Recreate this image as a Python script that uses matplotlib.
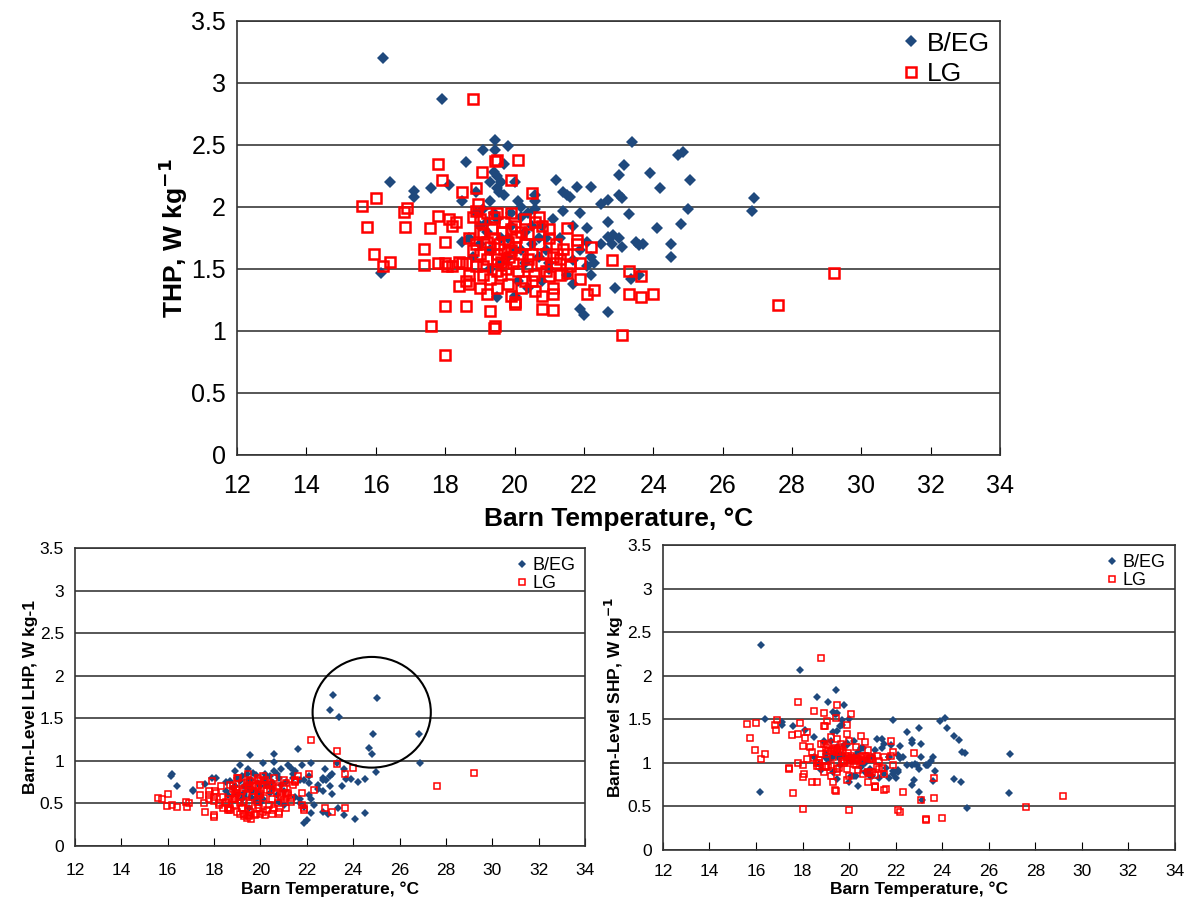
import matplotlib.pyplot as plt
from matplotlib.patches import Ellipse

plt.rcParams['font.family'] = ['Liberation Sans', 'DejaVu Sans']

# B/EG barns: temperature, total / latent / sensible heat production
beg_temp = [16.2, 16.15, 16.4, 17.1, 17.1, 17.6, 17.9, 18.1, 18.6, 18.5,
            18.7, 18.9, 19.1, 19.45, 19.45, 19.8, 19.4, 19.5, 19.6, 20.0,
            19.7, 19.3, 19.1, 19.55, 20.1, 20.6, 20.6, 20.2, 19.9, 19.2,
            19.0, 19.3, 19.6, 19.8, 20.3, 20.5, 20.8, 20.9, 21.2, 21.4,
            21.5, 21.6, 21.8, 22.2, 21.4, 21.9, 22.1, 22.5, 22.7, 22.7,
            23.0, 23.1, 23.15, 23.0, 23.4, 23.3, 23.0, 22.7, 22.8, 23.1,
            23.5, 23.7, 23.9, 24.1, 24.2, 24.5, 24.5, 24.8, 24.7, 24.85,
            25.05, 25.0, 26.9, 26.85, 22.9, 23.35, 23.6, 22.2, 21.9, 22.0,
            22.7, 21.7, 22.1, 22.2, 21.7, 20.0, 19.5, 20.4, 20.1, 21.0,
            20.7, 19.3, 18.8, 20.2, 20.9, 21.3, 21.1, 20.4, 19.9, 19.5,
            19.2, 18.5, 20.6, 19.7, 19.5, 19.3, 20.3, 21.5, 20.8, 22.5,
            22.1, 21.7, 23.6, 22.85, 21.9, 22.3, 19.0, 19.8, 20.5, 20.0,
            19.4, 20.2, 21.0, 19.6, 18.9, 20.7]
beg_thp = [3.20, 1.47, 2.20, 2.13, 2.08, 2.15, 2.87, 2.18, 2.36, 2.05,
           1.75, 2.12, 2.46, 2.54, 2.46, 2.49, 2.28, 2.25, 2.20, 2.20,
           2.10, 2.05, 1.98, 2.12, 2.05, 2.10, 1.98, 1.92, 1.85, 1.80,
           1.70, 1.65, 1.75, 1.60, 1.80, 1.70, 1.85, 1.75, 2.22, 2.12,
           2.10, 2.08, 2.16, 2.16, 1.97, 1.95, 1.83, 2.02, 2.06, 1.88,
           2.10, 2.07, 2.34, 2.26, 2.52, 1.94, 1.75, 1.76, 1.70, 1.68,
           1.72, 1.70, 2.27, 1.83, 2.15, 1.70, 1.60, 1.86, 2.42, 2.44,
           2.22, 1.98, 2.07, 1.97, 1.35, 1.42, 1.45, 1.45, 1.18, 1.13,
           1.15, 1.38, 1.52, 1.60, 1.57, 1.28, 1.27, 1.35, 1.40, 1.50,
           1.60, 1.50, 1.60, 1.65, 1.65, 1.75, 1.90, 1.95, 1.95, 1.90,
           1.88, 1.72, 2.05, 2.35, 2.15, 2.20, 1.55, 1.45, 1.40, 1.70,
           1.72, 1.85, 1.69, 1.77, 1.65, 1.55, 1.85, 1.75, 1.85, 1.65,
           1.95, 2.00, 1.55, 1.55, 1.95, 1.75]
beg_lhp = [0.85, 0.82, 0.70, 0.66, 0.64, 0.73, 0.80, 0.80, 0.60, 0.75,
           0.76, 0.88, 0.76, 0.70, 0.90, 0.83, 0.72, 0.68, 0.78, 0.70,
           0.66, 0.70, 0.95, 1.07, 0.98, 1.08, 0.99, 0.85, 0.62, 0.55,
           0.60, 0.58, 0.65, 0.52, 0.72, 0.75, 0.80, 0.90, 0.95, 0.85,
           0.88, 1.14, 0.95, 0.97, 0.80, 0.46, 0.74, 0.67, 0.80, 0.65,
           0.70, 0.85, 1.77, 1.60, 1.52, 0.97, 0.82, 0.78, 0.90, 0.61,
           0.70, 0.79, 0.79, 0.32, 0.75, 0.39, 0.79, 1.08, 1.15, 1.31,
           1.74, 0.87, 0.97, 1.32, 0.38, 0.45, 0.36, 0.39, 0.27, 0.30,
           0.40, 0.55, 0.60, 0.55, 0.50, 0.50, 0.45, 0.62, 0.55, 0.65,
           0.60, 0.60, 0.68, 0.80, 0.72, 0.92, 0.75, 0.82, 0.74, 0.72,
           0.82, 0.65, 0.88, 0.86, 0.78, 0.62, 0.70, 0.58, 0.52, 0.72,
           0.82, 0.78, 0.90, 0.78, 0.78, 0.48, 0.80, 0.55, 0.68, 0.60,
           0.85, 0.75, 0.48, 0.58, 0.70, 0.85]
beg_shp = [2.35, 0.66, 1.50, 1.47, 1.44, 1.42, 2.07, 1.38, 1.76, 1.30,
           0.99, 1.24, 1.70, 1.84, 1.56, 1.66, 1.56, 1.57, 1.42, 1.50,
           1.44, 1.35, 1.03, 1.05, 1.07, 1.02, 0.99, 1.07, 1.23, 1.25,
           1.10, 1.07, 1.10, 1.08, 1.08, 0.95, 1.05, 0.85, 1.27, 1.27,
           1.22, 0.94, 1.21, 1.19, 1.17, 1.49, 1.09, 1.35, 1.26, 1.23,
           1.40, 1.22, 0.57, 0.66, 0.98, 0.97, 0.93, 0.98, 0.80, 1.07,
           1.02, 0.91, 1.48, 1.51, 1.40, 1.31, 0.81, 0.78, 1.26, 1.13,
           0.48, 1.11, 1.10, 0.65, 0.97, 0.97, 1.07, 1.06, 0.91, 0.83,
           0.75, 0.83, 0.92, 1.05, 1.07, 0.78, 0.82, 0.73, 0.85, 0.85,
           1.00, 0.90, 0.92, 0.85, 0.93, 0.83, 1.15, 1.13, 1.21, 1.18,
           1.06, 1.07, 1.17, 1.49, 1.37, 1.58, 0.85, 0.87, 0.88, 0.98,
           0.90, 1.07, 0.79, 0.99, 0.87, 1.07, 1.05, 1.20, 1.17, 1.05,
           1.10, 1.25, 1.07, 0.97, 1.25, 0.90]

# LG barns
lg_temp = [15.6, 15.75, 16.0, 15.95, 16.2, 16.4, 16.8, 16.9, 16.85, 17.4,
           17.4, 17.55, 17.6, 17.8, 17.9, 17.8, 18.0, 18.0, 18.05, 18.0,
           18.0, 18.1, 18.2, 18.3, 18.4, 18.5, 18.6, 18.6, 18.5, 18.8,
           18.9, 18.95, 18.9, 18.8, 19.0, 19.05, 19.45, 19.5, 20.1, 19.9,
           20.5, 19.5, 19.9, 19.4, 19.45, 19.3, 19.0, 19.1, 19.2, 19.5,
           19.9, 20.0, 20.0, 20.3, 20.6, 20.8, 20.8, 21.1, 21.1, 21.1,
           21.0, 21.2, 21.5, 21.5, 21.6, 21.8, 21.8, 21.9, 21.9, 21.5,
           22.1, 22.3, 22.2, 22.8, 23.3, 23.3, 23.1, 23.65, 23.65, 24.0,
           27.6, 29.2, 18.7, 18.8, 18.9, 19.0, 19.1, 19.2, 19.3, 19.2,
           19.35, 19.4, 19.5, 19.55, 19.6, 19.65, 19.7, 19.75, 19.8, 19.85,
           19.9, 19.95, 20.0, 20.05, 20.1, 20.15, 20.2, 20.3, 20.35, 20.4,
           20.5, 20.55, 20.6, 20.7, 20.75, 20.8, 20.9, 21.0, 21.1, 21.2,
           21.3, 21.4, 19.1, 19.3, 19.6, 19.8, 20.2, 20.5, 18.7, 18.6,
           18.9, 19.0, 19.4, 19.2, 20.0, 20.3, 20.7, 19.7, 21.0, 19.5,
           19.9, 20.4, 20.9, 21.3, 17.8, 18.2, 18.4, 18.7, 19.5]
lg_thp = [2.01, 1.84, 2.07, 1.62, 1.52, 1.56, 1.96, 1.99, 1.84, 1.66,
          1.53, 1.83, 1.04, 2.35, 2.22, 1.93, 1.72, 1.55, 1.52, 0.81,
          1.20, 1.90, 1.85, 1.88, 1.36, 1.55, 1.20, 1.40, 2.12, 2.87,
          2.15, 2.02, 1.97, 1.92, 1.80, 2.28, 2.37, 2.38, 2.38, 2.22,
          2.11, 1.95, 1.95, 1.02, 1.04, 1.16, 1.35, 1.45, 1.30, 1.35,
          1.28, 1.23, 1.22, 1.40, 1.32, 1.18, 1.28, 1.17, 1.30, 1.35,
          1.44, 1.55, 1.62, 1.47, 1.52, 1.70, 1.73, 1.42, 1.55, 1.83,
          1.30, 1.33, 1.68, 1.57, 1.48, 1.30, 0.97, 1.44, 1.27, 1.30,
          1.21, 1.47, 1.75, 1.65, 1.70, 1.62, 1.78, 1.72, 1.68, 1.58,
          1.82, 1.75, 1.62, 1.70, 1.56, 1.80, 1.66, 1.50, 1.72, 1.60,
          1.82, 1.55, 1.68, 1.76, 1.48, 1.62, 1.80, 1.70, 1.52, 1.78,
          1.62, 1.45, 1.88, 1.70, 1.55, 1.85, 1.62, 1.75, 1.60, 1.70,
          1.58, 1.66, 1.52, 1.42, 1.45, 1.38, 1.35, 1.40, 1.45, 1.55,
          1.52, 1.90, 1.92, 1.95, 1.85, 1.90, 1.92, 1.88, 1.82, 1.58,
          1.65, 1.58, 1.48, 1.45, 1.55, 1.52, 1.56, 1.38, 1.48]
lg_lhp = [0.56, 0.55, 0.61, 0.47, 0.48, 0.46, 0.52, 0.50, 0.46, 0.72,
          0.60, 0.51, 0.40, 0.65, 0.76, 0.60, 0.53, 0.58, 0.65, 0.34,
          0.36, 0.62, 0.50, 0.70, 0.58, 0.50, 0.42, 0.44, 0.52, 0.67,
          0.58, 0.60, 0.55, 0.70, 0.62, 0.80, 0.85, 0.72, 0.82, 0.78,
          0.70, 0.68, 0.62, 0.33, 0.36, 0.38, 0.40, 0.50, 0.45, 0.42,
          0.48, 0.38, 0.76, 0.42, 0.45, 0.40, 0.38, 0.45, 0.58, 0.62,
          0.55, 0.60, 0.75, 0.78, 0.82, 0.62, 0.48, 0.45, 0.42, 0.76,
          0.84, 0.66, 1.24, 0.45, 1.12, 0.96, 0.40, 0.84, 0.44, 0.92,
          0.71, 0.86, 0.72, 0.55, 0.48, 0.66, 0.58, 0.74, 0.52, 0.44,
          0.68, 0.60, 0.50, 0.76, 0.40, 0.58, 0.64, 0.36, 0.70, 0.52,
          0.80, 0.44, 0.62, 0.72, 0.40, 0.56, 0.78, 0.66, 0.48, 0.74,
          0.55, 0.42, 0.80, 0.62, 0.50, 0.70, 0.58, 0.68, 0.74, 0.62,
          0.56, 0.72, 0.38, 0.35, 0.32, 0.38, 0.36, 0.38, 0.45, 0.55,
          0.62, 0.80, 0.75, 0.65, 0.60, 0.72, 0.68, 0.70, 0.78, 0.68,
          0.72, 0.66, 0.60, 0.52, 0.55, 0.48, 0.44, 0.42, 0.35]
lg_shp = [1.45, 1.29, 1.46, 1.15, 1.04, 1.10, 1.44, 1.49, 1.38, 0.94,
          0.93, 1.32, 0.65, 1.70, 1.46, 1.33, 1.19, 0.97, 0.87, 0.47,
          0.84, 1.28, 1.35, 1.18, 0.78, 1.05, 0.78, 0.96, 1.60, 2.20,
          1.57, 1.42, 1.42, 1.22, 1.18, 1.48, 1.52, 1.66, 1.56, 1.44,
          1.31, 1.27, 1.33, 0.69, 0.68, 0.78, 0.95, 0.95, 0.85, 0.93,
          0.80, 0.85, 0.46, 0.98, 0.87, 0.78, 0.90, 0.72, 0.72, 0.73,
          0.89, 0.95, 0.87, 0.69, 0.70, 1.08, 1.25, 0.97, 1.13, 1.07,
          0.46, 0.67, 0.44, 1.11, 0.36, 0.34, 0.57, 0.60, 0.83, 0.37,
          0.49, 0.62, 1.03, 1.10, 1.22, 0.96, 1.20, 0.98, 1.16, 1.14,
          1.14, 1.15, 1.12, 0.94, 1.16, 1.22, 1.02, 1.14, 1.02, 1.08,
          1.02, 1.11, 1.06, 1.04, 1.08, 1.06, 1.02, 1.04, 1.04, 1.04,
          1.07, 1.03, 1.08, 1.08, 1.05, 1.15, 1.04, 1.07, 0.86, 1.08,
          1.02, 0.94, 1.14, 1.07, 1.13, 1.00, 0.99, 1.02, 1.00, 1.00,
          0.90, 1.10, 1.17, 1.30, 1.25, 1.18, 1.24, 1.18, 1.04, 0.90,
          0.93, 0.92, 0.88, 0.93, 1.00, 1.04, 1.12, 0.96, 1.13]

BLUE = '#1F497D'
RED = '#FF0000'


def draw_panel(ax, beg_y, lg_y, ylabel, tick_fs, label_fs, leg_fs,
               ms_d, ms_s, mew, xpad, xlabelpad, leg_pad, leg_space):
    ax.plot(beg_temp, beg_y, 'D', color=BLUE, ms=ms_d, mew=0, label='B/EG', zorder=3)
    ax.plot(lg_temp, lg_y, 's', mfc='none', mec=RED, ms=ms_s, mew=mew, label='LG', zorder=4)
    ax.set_xlim(12, 34)
    ax.set_ylim(0, 3.5)
    ax.set_xticks(range(12, 35, 2))
    ax.set_yticks([0, 0.5, 1, 1.5, 2, 2.5, 3, 3.5])
    ax.set_yticklabels(['0', '0.5', '1', '1.5', '2', '2.5', '3', '3.5'])
    ax.grid(axis='y', color='#3a3a3a', lw=1.2)
    ax.set_axisbelow(True)
    ax.tick_params(axis='x', direction='in', length=6, labelsize=tick_fs, pad=xpad)
    ax.tick_params(axis='y', length=0, labelsize=tick_fs, pad=8)
    for sp in ax.spines.values():
        sp.set_color('#333333')
        sp.set_linewidth(1.2)
    ax.set_xlabel('Barn Temperature, °C', fontsize=label_fs, fontweight='bold',
                  labelpad=xlabelpad)
    ax.set_ylabel(ylabel, fontsize=label_fs, fontweight='bold', labelpad=1)
    leg = ax.legend(loc='upper right', frameon=False, fontsize=leg_fs,
                    handletextpad=0.1, handlelength=1.0, borderaxespad=leg_pad,
                    labelspacing=leg_space)
    return leg


fig = plt.figure(figsize=(11.96, 8.99), dpi=100)

ax_top = fig.add_axes([0.1982, 0.4939, 0.638, 0.4828])
draw_panel(ax_top, beg_thp, lg_thp, 'THP, W kg$^{\\mathbf{-1}}$',
           18, 19, 19, 6.5, 7, 1.8, 14, 6, 0.0, 0.25)

ax_lhp = fig.add_axes([0.0627, 0.059, 0.4264, 0.3315])
draw_panel(ax_lhp, beg_lhp, lg_lhp, 'Barn-Level LHP, W kg-1',
           12.5, 12.5, 13, 4.5, 4.5, 1.1, 12, 3, 0.1, 0.05)
ax_lhp.add_patch(Ellipse((24.8, 1.57), 5.1, 1.3, fill=False, ec='black', lw=1.5, zorder=5))

ax_shp = fig.add_axes([0.5543, 0.0545, 0.4281, 0.3393])
draw_panel(ax_shp, beg_shp, lg_shp, 'Barn-Level SHP, W kg$^{\\mathbf{-1}}$',
           12.5, 12.5, 13, 4.5, 4.5, 1.1, 10, 2, 0.1, 0.05)

fig.savefig('out.png', dpi=100)
